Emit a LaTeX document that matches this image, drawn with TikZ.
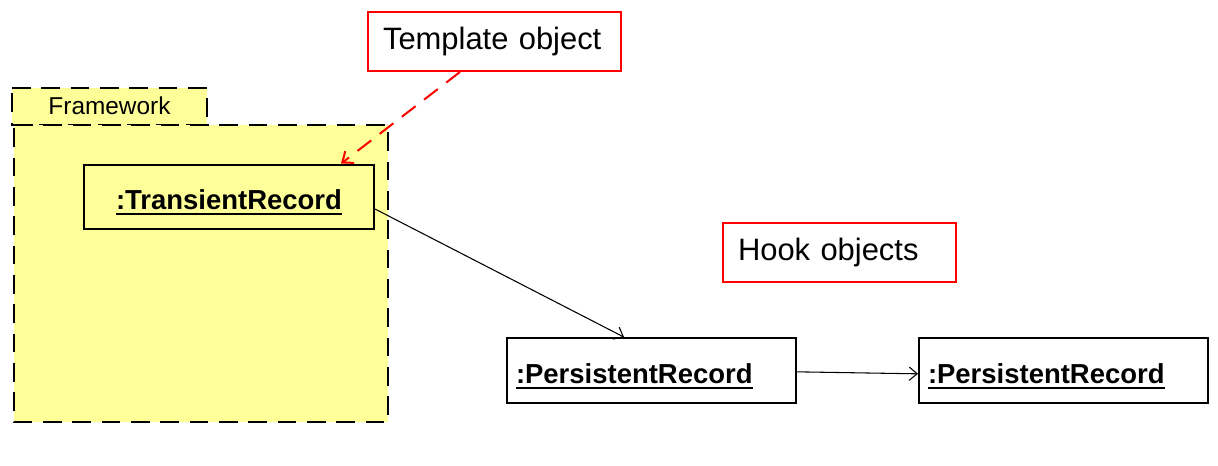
\documentclass[tikz,border=0pt]{standalone}
\usepackage{fontspec}
\setmainfont{Liberation Sans}
\usetikzlibrary{arrows.meta}

\definecolor{pkgyellow}{RGB}{255,255,153}
\newcommand{\objname}[1]{\sbox0{\bfseries #1}\rlap{\rule[-4.2pt]{\wd0}{1.6pt}}\usebox0}

\tikzset{
  objbox/.style={draw, line width=1.5pt, minimum height=48.5pt, inner xsep=6.75pt,
    text height=23.4pt, text depth=4.2pt, font=\fontsize{20.6}{24}\selectfont},
  notebox/.style={draw=red, line width=1.5pt, minimum height=44.25pt, inner xsep=11.25pt,
    align=left, font=\fontsize{23.2}{27}\selectfont},
  pkgline/.style={line width=2pt, dash pattern=on 14pt off 8pt, fill=pkgyellow},
  link/.style={line width=0.8pt, -{Straight Barb[length=6pt,width=10pt]}}
}

\begin{document}
\begin{tikzpicture}[x=0.75pt,y=0.75pt,yscale=-1,xscale=1]
\useasboundingbox (0,0) rectangle (1218,466);

%Shape: Package tab
\draw [pkgline]  (12,88) -- (207,88) -- (207,125) -- (12,125) -- cycle ;
%Shape: Package body
\draw [pkgline]  (14,125) -- (388,125) -- (388,422) -- (14,422) -- cycle ;

% Text Node
\node (fwlabel) at (109.5,106) [inner sep=0.75pt, font=\fontsize{18.3}{22}\selectfont] {Framework};

%Object nodes
\node (trans) at (229,197) [objbox, minimum width=217.5pt] {\objname{:TransientRecord}};
\node (pers1) at (651.5,370.5) [objbox, minimum width=216.75pt, text width=203.25pt, align=left] {\objname{:PersistentRecord}};
\node (pers2) at (1063.5,370.5) [objbox, minimum width=216.75pt, text width=203.25pt, align=left] {\objname{:PersistentRecord}};

%Note nodes
\node (tmpl) at (494.5,41.5) [notebox, minimum width=189.75pt, text width=167.25pt] {Template object};
\node (hook) at (839.5,252.5) [notebox, minimum width=174.75pt, text width=152.25pt] {Hook objects};

%Dashed red link
\draw [red, line width=1.5pt, dash pattern=on 13pt off 8pt, -{Straight Barb[length=7pt,width=11pt]}]
  ([xshift=-25.9pt]tmpl.south) -- ([xshift=-25.5pt]trans.north east) ;
%Straight Lines
\draw [link]  ([yshift=9pt]trans.east) -- ([xshift=-20.6pt]pers1.north) ;
\draw [link]  ([yshift=1pt]pers1.east) -- ([yshift=2.5pt]pers2.west) ;

\end{tikzpicture}
\end{document}
